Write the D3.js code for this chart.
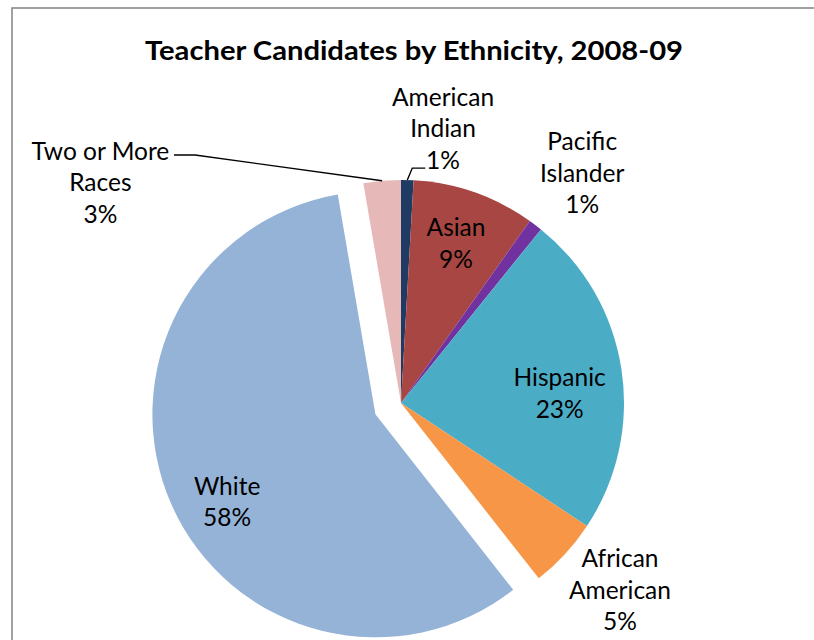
<!DOCTYPE html>
<html>
<head>
<meta charset="utf-8">
<script src="https://cdn.jsdelivr.net/npm/d3@7"></script>
<style>
  html, body { margin: 0; padding: 0; background: #fff; }
  svg { display: block; }
  text { font-family: Lato, "Open Sans", sans-serif; fill: #000; }
</style>
</head>
<body>
<svg id="chart" width="814" height="640"></svg>
<script>
// ---- data ----
const categories = ["American Indian", "Asian", "Pacific Islander", "Hispanic", "African American", "White", "Two or More Races"];
const values = [0.9, 8.9, 1.0, 23.5, 5.1, 57.9, 2.7];
const percentLabels = ["1%", "9%", "1%", "23%", "5%", "58%", "3%"];
const labelLines = [["American", "Indian"], ["Asian"], ["Pacific", "Islander"], ["Hispanic"], ["African", "American"], ["White"], ["Two or More", "Races"]];
const title = "Teacher Candidates by Ethnicity, 2008-09";

// ---- styles / layout ----
const colors = ["#1F3B63", "#A84643", "#7132A0", "#4BACC6", "#F79646", "#95B3D7", "#E6B9B8"];
const explode = [0, 0, 0, 0, 0, 28, 0];
// label block centers in polar form (angle deg clockwise from top, distance from pie centre)
const labelPolar = [[8.7, 278], [19, 169], [38.2, 293], [86.4, 159], [130.5, 288], [240.4, 200], [306.3, 373]];

const W = 814, H = 640;
const cx = 401, cy = 403, R = 223;
const lineH = 31.5;

const svg = d3.select("#chart");

// frame
svg.append("rect")
  .attr("x", 12).attr("y", 8)
  .attr("width", W).attr("height", H)
  .attr("fill", "#fff")
  .attr("stroke", "#8a8a8a").attr("stroke-width", 1.6);

// title
svg.append("text")
  .attr("x", 414).attr("y", 60)
  .attr("text-anchor", "middle")
  .attr("font-weight", "bold")
  .attr("font-size", 27)
  .attr("textLength", 538)
  .attr("lengthAdjust", "spacingAndGlyphs")
  .text(title);

const pie = d3.pie().sort(null).value(d => d)(values);
const arc = d3.arc().innerRadius(0).outerRadius(R);

const g = svg.append("g").attr("transform", `translate(${cx},${cy})`);

g.selectAll("path.slice")
  .data(pie)
  .join("path")
  .attr("class", "slice")
  .attr("fill", (d, i) => colors[i])
  .attr("transform", (d, i) => {
    const a = (d.startAngle + d.endAngle) / 2;
    const o = explode[i];
    return `translate(${o * Math.sin(a)},${-o * Math.cos(a)})`;
  })
  .attr("d", arc);

// labels
const fontSize = 24.5;
pie.forEach((d, i) => {
  const [adeg, dist] = labelPolar[i];
  const a = adeg * Math.PI / 180;
  const x = dist * Math.sin(a);
  const y = -dist * Math.cos(a);
  const lines = labelLines[i].concat([percentLabels[i]]);
  const n = lines.length;
  const txt = g.append("text")
    .attr("text-anchor", "middle")
    .attr("font-size", fontSize);
  lines.forEach((ln, k) => {
    txt.append("tspan")
      .attr("x", x)
      .attr("y", y + (k - (n - 1) / 2) * lineH + fontSize * 0.36)
      .text(ln);
  });
});

// leader lines
function outerPoint(i, rr) {
  const d = pie[i];
  const a = (d.startAngle + d.endAngle) / 2;
  return [rr * Math.sin(a), -rr * Math.cos(a)];
}
const line = d3.line();
{
  const p0 = outerPoint(0, R);
  g.append("path")
    .attr("d", line([p0, [p0[0] + 5, p0[1] - 12], [p0[0] + 18, p0[1] - 12]]))
    .attr("fill", "none").attr("stroke", "#000").attr("stroke-width", 1.4);
}
{
  const p0 = outerPoint(6, R);
  g.append("path")
    .attr("d", line([p0, [195 - cx, 155 - cy], [174 - cx, 155 - cy]]))
    .attr("fill", "none").attr("stroke", "#000").attr("stroke-width", 1.4);
}
</script>
</body>
</html>
